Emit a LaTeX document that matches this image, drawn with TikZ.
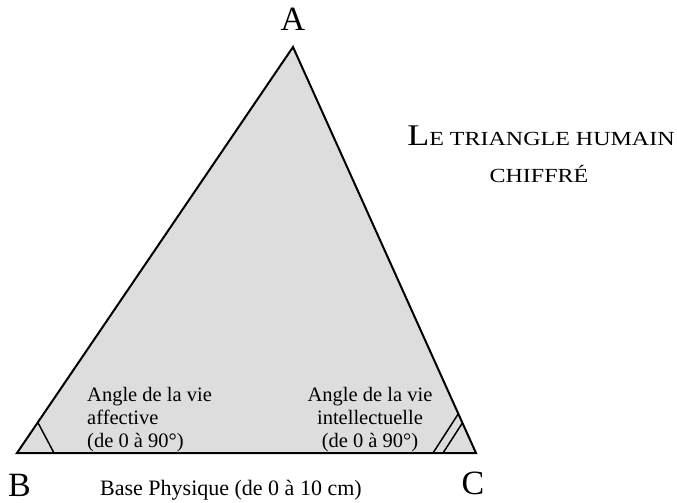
\documentclass[tikz,border=0pt]{standalone}
\usepackage{fontspec}
\setmainfont{Liberation Serif}
\usetikzlibrary{calc}
\definecolor{trifill}{RGB}{221,221,221}
\tikzset{
  side/.style={draw=black, line width=2pt, line join=miter},
  anglemark/.style={draw=black, line width=1.5pt},
  vertexlabel/.style={anchor=base, inner sep=0pt, font=\fontsize{34}{36}\selectfont},
  anglelabel/.style={inner sep=0pt, font=\fontsize{20.5}{23}\selectfont},
  baselabel/.style={anchor=base west, inner sep=0pt, font=\fontsize{22}{24}\selectfont},
}
\begin{document}
\begin{tikzpicture}[x=1pt,y=-1pt]
\useasboundingbox (0,0) rectangle (677,503);
\coordinate (A) at (293,47);
\coordinate (B) at (17,453);
\coordinate (C) at (476,453);
\fill[trifill] (A) -- (B) -- (C) -- cycle;
% angle marks
\coordinate (b1) at ($(B)!37pt!(A)$);
\coordinate (b2) at ($(B)!37pt!(C)$);
\draw[anglemark] (b1) -- (b2);
\coordinate (c1) at ($(C)!43pt!(A)$);
\coordinate (c2) at ($(C)!43pt!(B)$);
\coordinate (c3) at ($(C)!33pt!(A)$);
\coordinate (c4) at ($(C)!33pt!(B)$);
\draw[anglemark] (c1) -- (c2);
\draw[anglemark] (c3) -- (c4);
\draw[side] (A) -- (B) -- (C) -- cycle;
% labels
\node[vertexlabel] (lA) at (293,31) {A};
\node[vertexlabel] (lB) at (19.5,496) {B};
\node[vertexlabel] (lC) at (473,494) {C};
\node[baselabel] (base) at (100,495) {Base Physique (de 0 à 10 cm)};
\node[anglelabel, anchor=north west, align=left] (aff) at (87,387) {Angle de la vie\\affective\\(de 0 à 90°)};
\node[anglelabel, anchor=north, align=center] (int) at (370,387) {Angle de la vie\\intellectuelle\\(de 0 à 90°)};
\node[inner sep=0pt, anchor=base] (title1) at (541,145) {\scalebox{1.2}[1]{\fontsize{30}{32}\selectfont L\fontsize{20}{22}\selectfont E TRIANGLE HUMAIN}};
\node[inner sep=0pt, anchor=base] (title2) at (539,182) {\scalebox{1.2}[1]{\fontsize{20}{22}\selectfont CHIFFRÉ}};
\end{tikzpicture}
\end{document}
